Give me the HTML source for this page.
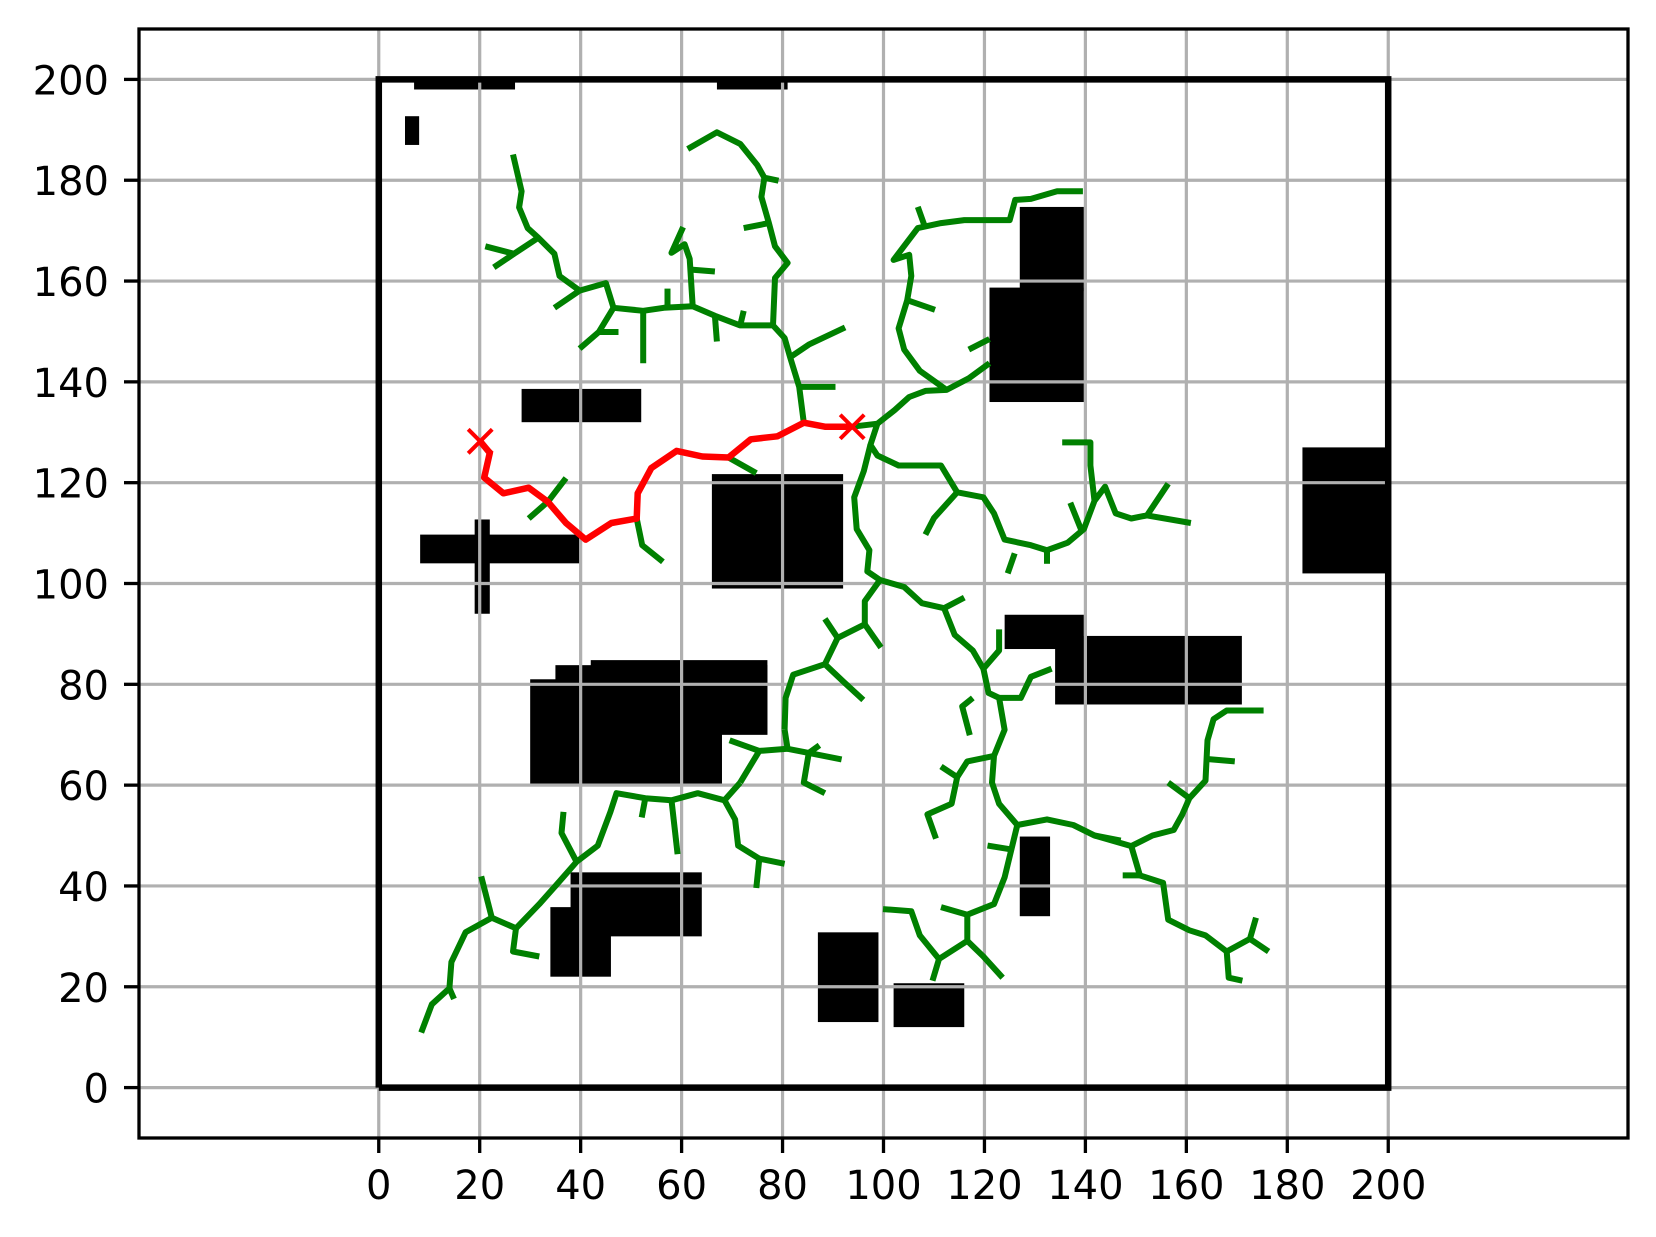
<!DOCTYPE html>
<html><head><meta charset="utf-8"><style>
html,body{margin:0;padding:0;background:#fff;}
svg{display:block;}
text{font-family:"DejaVu Sans","Liberation Sans",sans-serif;font-size:40px;fill:#000;}
</style></head><body>
<svg id="chart" width="1656" height="1237" viewBox="0 0 1656 1237" xmlns="http://www.w3.org/2000/svg"></svg>
<script>
const xTicks=[0,20,40,60,80,100,120,140,160,180,200];
const yTicks=[0,20,40,60,80,100,120,140,160,180,200];
const boundary=[[0,0],[200,0],[200,200],[0,200],[0,0]];
// obstacles: [x, y, w, h]
const obstacles=[[7,198,20,2],[67,198,14,2],[5.2,187,2.8,5.7],[28.3,132,23.7,6.6],[8.2,104,31.6,5.7],[19,94,3,18.7],
[66,99,26,22.7],[30,60,38,21],[35,70,42,13.8],[42,70,35,14.8],[38,30,26,12.7],[34,22,12,13.8],[87,13,12,17.8],[102,12,14,8.7],
[121,136,18.7,22.7],[127,158,12.7,16.7],[124,87,15.7,6.8],[134,76,37,13.6],[127,34,6,15.8],[183,102,17,25]];
const pathPts=[[20.1,128.2],[22,125.9],[20.9,121],[24.7,117.9],[29.7,119],[33.5,116.2],[37.1,112],[41,108.7],[46.1,112],[51.1,112.9],[51.3,117.9],[54,122.9],[59,126.3],[64.1,125.2],[69.3,125],[73.7,128.6],[79,129.2],[84.2,131.9],[88.4,131.1],[93.8,131.1]];
const startPt=[20.1,128.2];
const goalPt=[93.8,131.1];
const branches=[
[[26.6,185.1],[28.3,177.8],[27.8,174.6],[29.5,170.5],[31.6,168.6],[34.8,165.4],[35.8,161],[39.8,158.1],[45,159.6],[46.5,154.7],[52.4,154.1],[56.5,154.7],[62.2,155],[66.6,153.1],[71.6,151.2],[78.1,151.2],[80.4,148.7],[81.5,144.9],[83.3,139],[84.2,131.9]],
[[21.1,166.9],[26.8,165.4],[31.6,168.6]],[[22.8,162.7],[26.8,165.4]],
[[34.8,154.7],[39.8,158.1]],[[39.8,146.6],[43.6,149.9],[46.5,154.7]],[[43.6,149.9],[47.5,149.9]],
[[52.4,154.1],[52.4,143.7]],[[57.2,158.5],[57.2,154.7]],
[[62.2,155],[61.6,164.4],[60.6,167.3],[58,165.6],[60.3,170.7]],[[61.6,162.3],[66.6,161.9]],
[[67,148],[66.6,153.1]],[[72.3,154.1],[71.6,151.2]],
[[61.2,186.2],[67,189.5],[71.6,187.2],[75,183],[76.4,180.5],[79.2,179.9]],
[[76.4,180.5],[75.8,176.7],[77.3,171.5],[78.5,166.9],[81,163.6],[78.5,160.6],[78.1,151.2]],[[72.3,170.5],[77.3,171.5]],
[[81.5,144.9],[85.2,147.4],[92.4,150.8]],[[83.3,139],[90.5,139]],
[[93.8,131.1],[98.8,131.7],[102.2,134.4],[105.1,137],[108.3,138.2],[112.5,138.4],[116.9,140.7],[121,143.7]],
[[116.9,146.4],[121,148.5]],
[[112.5,138.4],[107.2,142.2],[104.1,146.4],[103,150.6],[104.7,156.2],[105.5,161],[105.1,165.2],[102,164.2],[106.8,170.5],[111.4,171.5],[116,172.1],[125,172.1],[126.1,176.1],[129.2,176.3],[134.4,177.8],[139.5,177.8]],
[[106.8,174.7],[108.3,170.5]],[[104.7,156.2],[110.2,154.3]],
[[98.8,131.7],[97.4,127.5],[98.8,125.4],[103,123.4],[107.2,123.4],[111.4,123.4],[114.6,118.1],[119.8,117.1],[121.9,113.9],[124,108.7],[129.2,107.6],[132.4,106.6],[136.5,108.1],[139.7,110.8],[141.8,116.4],[143.9,119.2],[146,113.9],[149.1,112.9],[152.2,113.5],[156.4,119.8]],
[[135.4,128],[141,128],[141,123.4],[141.8,116.4]],[[137,116],[139.1,110.8]],[[152.2,113.5],[160.9,112]],
[[124.6,102],[126,106]],[[132.4,106.6],[132.4,103.9]],[[114.6,118.1],[110,113],[108.3,109.7]],
[[97.4,127.5],[96.1,122.3],[94.2,117.1],[94.7,110.8],[97.2,106.6],[96.8,102.4],[99.3,100.7]],
[[99.3,100.7],[104.1,99.3],[107.6,96.1],[112,95.1],[116,97.2]],
[[112,95.1],[114.1,89.8],[117.7,86.7],[119.8,83.1],[122.9,86.7],[122.9,90.9]],
[[119.8,83.1],[120.8,78.3],[122.9,77.3],[124,71],[121.9,65.8],[121.5,60.5],[122.9,56.3],[126.5,52.1],[132.4,53.2],[137.6,52.1],[141.8,50],[149.1,47.9],[153.3,50],[157.5,51.1],[159.2,54.2],[160.6,57.4],[163.8,60.9],[164.2,68.9],[165.4,73.1],[168,74.8],[175.3,74.8]],
[[156.4,60.5],[160.6,57.4]],[[163.8,65.2],[169.6,64.7]],
[[149.1,47.9],[150.8,42.1],[155.4,40.6],[156.4,33.3],[160.6,31.2],[163.8,30.2],[168,27],[172.6,29.5],[173.8,33.7]],
[[168,27],[168.4,21.8],[171.1,21.2]],[[172.6,29.5],[176.3,27]],[[147.4,42.1],[150.8,42.1]],[[141.8,50],[147,49]],
[[126.5,52.1],[124,41.7],[121.9,36.4],[116.6,34.3],[116.6,29.1],[111,25.5],[107.2,30.2],[105.5,35],[99.9,35.4]],
[[116.6,29.1],[119.8,26],[123.6,21.8]],[[111,25.5],[109.7,21.2]],[[116.6,34.3],[111.4,35.8]],[[120.6,48],[125,47.3]],
[[121.9,65.8],[116.6,64.7],[114.6,61.6],[113.5,56.3],[108.7,54.2],[110.4,49.4]],[[114.6,61.6],[111.4,63.7]],
[[117.7,77.3],[115.6,75.6],[117.1,69.9]],[[122.9,77.3],[127.2,77.3],[129.2,81.5],[133.3,83.1]],
[[99.3,100.7],[96.3,96.5],[96.3,91.9],[90.9,89.2],[88.4,84],[82.1,81.9],[80.6,77.3],[80.4,71]],
[[90.9,89.2],[88.4,93]],[[96.3,91.9],[99.5,87.3]],[[88.4,84],[92.2,80.4],[96,76.9]],
[[81,67.2],[75.4,66.8],[69.5,68.9]],[[75.4,66.8],[71.6,60.5]],[[80.4,71],[81,67.2],[85.2,66.4],[87.3,67.9]],
[[85.2,66.4],[84.2,60.5],[88.4,58.4]],[[85.2,66.4],[91.7,65.1]],
[[71.6,60.5],[68.5,57],[63.2,58.4],[58,57],[52.8,57.4],[47.1,58.4],[45.9,54.7],[43.4,48],[39.2,44.8],[35,40],[31.8,36.4],[27.2,31.6],[22.4,33.7],[17.2,30.8],[14.4,24.9],[14,19.7],[10.5,16.5],[8.4,10.9]],
[[68.5,57],[70.6,53.2],[71.2,48],[75.4,45.4],[74.8,39.6]],[[75.4,45.4],[80.4,44.4]],
[[58,57],[59.2,46.3]],[[52.8,57.4],[52.1,53.6]],[[39.2,44.8],[36.2,50.5],[36.6,54.7]],
[[27.2,31.6],[26.6,27],[31.8,26]],[[22.4,33.7],[20.3,41.9]],[[14,19.7],[14.9,17.6]],
[[29.7,112.9],[33.5,116.2],[37.1,120.9]],[[51.1,112.9],[52.2,107.6],[56.3,104.3]],[[69.3,125],[74.8,121.9]]
];
const NS='http://www.w3.org/2000/svg';
const svg=document.getElementById('chart');
const L=139,R=1628,T=29,B=1138,X0=-47.5,X1=247.5,Y0=-10,Y1=210;
function sx(v){return L+(v-X0)/(X1-X0)*(R-L);}
function sy(v){return B-(v-Y0)/(Y1-Y0)*(B-T);}
function mk(tag,attrs,parent){const e=document.createElementNS(NS,tag);for(const k in attrs)e.setAttribute(k,attrs[k]);(parent||svg).appendChild(e);return e;}
function pts(a){return a.map(p=>sx(p[0]).toFixed(1)+','+sy(p[1]).toFixed(1)).join(' ');}

const obsG=mk('g',{});


obstacles.forEach(o=>{
  const r=mk('rect',{x:sx(o[0]),y:sy(o[1]+o[3]),width:sx(o[0]+o[2])-sx(o[0]),height:sy(o[1])-sy(o[1]+o[3]),fill:'#000'},obsG);
  
  
});
const gridG=mk('g',{stroke:'#b0b0b0','stroke-width':3.2});


xTicks.forEach(t=>{mk('line',{x1:sx(t),x2:sx(t),y1:T,y2:B},gridG);});
yTicks.forEach(t=>{mk('line',{y1:sy(t),y2:sy(t),x1:L,x2:R},gridG);});

const bd=mk('polyline',{points:pts(boundary),fill:'none',stroke:'#000','stroke-width':6.5,'stroke-linejoin':'miter'});



const treeG=mk('g',{fill:'none',stroke:'#008000','stroke-width':6,'stroke-linejoin':'round'});


branches.forEach(b=>{
  const p=mk('polyline',{points:pts(b)},treeG);
  
  
});
const pathEl=mk('polyline',{points:pts(pathPts),fill:'none',stroke:'#ff0000','stroke-width':6.5,'stroke-linejoin':'round'});


[[startPt,'start-marker'],[goalPt,'goal-marker']].forEach(([p,n])=>{
  const g=mk('g',{stroke:'#ff0000','stroke-width':4});
  
  
  const cx=sx(p[0]),cy=sy(p[1]),d=12;
  mk('line',{x1:cx-d,y1:cy-d,x2:cx+d,y2:cy+d},g);
  mk('line',{x1:cx-d,y1:cy+d,x2:cx+d,y2:cy-d},g);
});
const fr=mk('rect',{x:L,y:T,width:R-L,height:B-T,fill:'none',stroke:'#000','stroke-width':3.3});


const xa=mk('g',{});


xTicks.forEach(t=>{
  mk('line',{x1:sx(t),x2:sx(t),y1:B,y2:B+15,stroke:'#000','stroke-width':3.3},xa);
  const tx=mk('text',{x:sx(t),y:B+61,'text-anchor':'middle'},xa);
  tx.textContent=String(t);
  
  
});
const ya=mk('g',{});


yTicks.forEach(t=>{
  mk('line',{x1:L-15,x2:L,y1:sy(t),y2:sy(t),stroke:'#000','stroke-width':3.3},ya);
  const tx=mk('text',{x:L-30,y:sy(t)+15,'text-anchor':'end'},ya);
  tx.textContent=String(t);
  
  
});
</script>
</body></html>
